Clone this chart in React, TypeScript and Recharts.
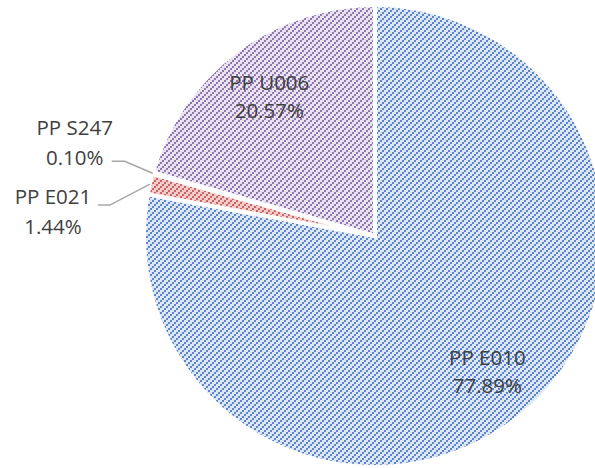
import { PieChart, Pie, Cell } from "recharts";

const products = ["PP E010", "PP E021", "PP S247", "PP U006"];
const shares = [77.89, 1.44, 0.1, 20.57];

const fills = ["url(#hatchBlue)", "url(#hatchRed)", "url(#hatchRed)", "url(#hatchPurple)"];

// outside labels: elbow offset from the rim, length of the flat part, text centre offset from line end
const outside: Record<string, { ex: number; ey: number; len: number; tx: number; ty: number }> = {
  "PP S247": { ex: -28, ey: -12, len: 13, tx: -37, ty: -34 },
  "PP E021": { ex: -40, ey: 21, len: 12, tx: -45, ty: -9 },
};

const data = products.map((name, i) => ({ name, value: shares[i] }));

const RAD = Math.PI / 180;

function renderLabel(props: any) {
  const { cx, cy, midAngle, outerRadius, name, value } = props;
  const cos = Math.cos(-midAngle * RAD);
  const sin = Math.sin(-midAngle * RAD);
  const txtStyle = { fontFamily: "'Open Sans', sans-serif", fontSize: 20.5, fill: "#404040" };
  const o = outside[name];
  if (!o) {
    const r = outerRadius * 0.76;
    const x = cx + r * cos;
    const y = cy + r * sin;
    return (
      <g key={name}>
        <text x={x} y={y - 14} textAnchor="middle" dominantBaseline="central" style={txtStyle}>{name}</text>
        <text x={x} y={y + 14} textAnchor="middle" dominantBaseline="central" style={txtStyle}>{value.toFixed(2)}%</text>
      </g>
    );
  }
  const sx = cx + outerRadius * cos;
  const sy = cy + outerRadius * sin;
  const mx = sx + o.ex;
  const my = sy + o.ey;
  const lx = mx - o.len;
  const tx = lx + o.tx;
  const ty = my + o.ty;
  return (
    <g key={name}>
      <polyline points={`${sx},${sy} ${mx},${my} ${lx},${my}`} fill="none" stroke="#a6a6a6" strokeWidth={1.5} />
      <text x={tx} y={ty} textAnchor="middle" dominantBaseline="central" style={txtStyle}>{name}</text>
      <text x={tx} y={ty + 30} textAnchor="middle" dominantBaseline="central" style={txtStyle}>{value.toFixed(2)}%</text>
    </g>
  );
}

// pixel staircase diagonal, like Excel's upward-diagonal pattern fill
function Hatch({ id, bg, line }: { id: string; bg: string; line: string }) {
  return (
    <pattern id={id} patternUnits="userSpaceOnUse" width={6} height={6}>
      <rect width={6} height={6} fill={bg} />
      <g fill={line} shapeRendering="crispEdges">
        <rect x={0} y={4} width={2} height={2} />
        <rect x={2} y={2} width={2} height={2} />
        <rect x={4} y={0} width={2} height={2} />
      </g>
    </pattern>
  );
}

export default function App() {
  return (
    <div style={{ width: 595, height: 468, background: "#fff" }}>
      <style>{`body{margin:0}`}</style>
      <PieChart width={595} height={468} margin={{ top: 0, right: 0, bottom: 0, left: 0 }}>
        <defs>
          <Hatch id="hatchBlue" bg="#dde6f4" line="#5b85cd" />
          <Hatch id="hatchRed" bg="#f3cccb" line="#cc6461" />
          <Hatch id="hatchPurple" bg="#e9e3ef" line="#9177b2" />
        </defs>
        <Pie
          data={data}
          dataKey="value"
          nameKey="name"
          cx={375}
          cy={236}
          outerRadius={231}
          startAngle={90}
          endAngle={-270}
          stroke="#ffffff"
          strokeWidth={4}
          label={renderLabel}
          labelLine={false}
          isAnimationActive={false}
        >
          {data.map((d, i) => (
            <Cell key={d.name} fill={fills[i]} />
          ))}
        </Pie>
      </PieChart>
    </div>
  );
}
